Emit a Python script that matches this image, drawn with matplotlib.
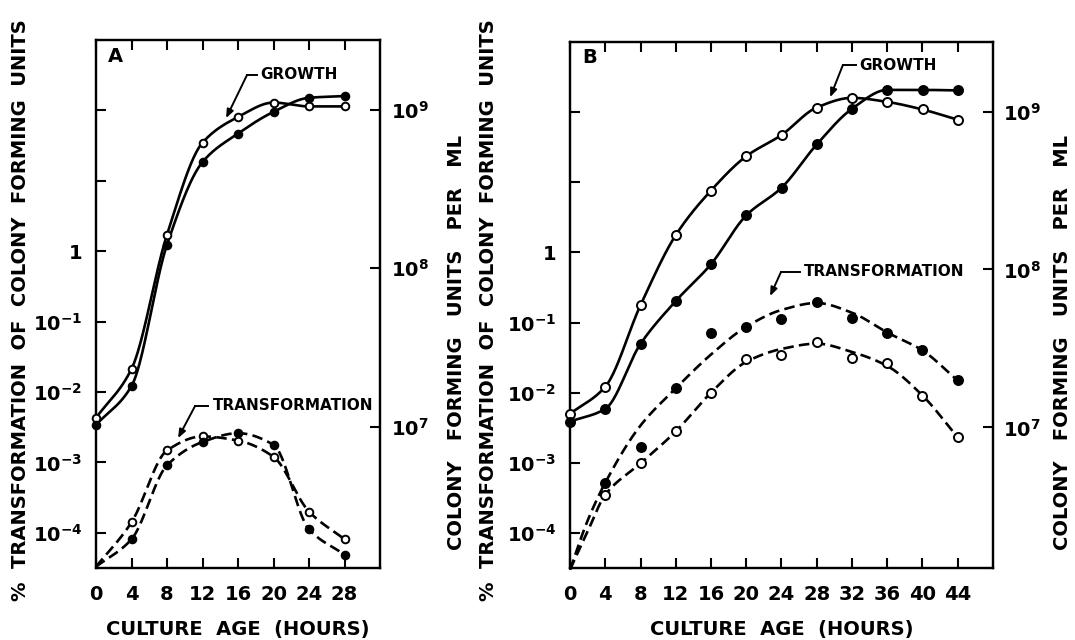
import numpy as np
import matplotlib
matplotlib.use("Agg")
import matplotlib.pyplot as plt
from matplotlib.ticker import NullLocator

plt.rcParams['font.family'] = ['DejaVu Sans']
plt.rcParams['font.weight'] = 'bold'
plt.rcParams['mathtext.fontset'] = 'dejavusans'
plt.rcParams['mathtext.default'] = 'bf'

# ---------------- data ----------------
# Panel A
a_hours = [0, 4, 8, 12, 16, 20, 24, 28]
a_growth_open = [1.14e7, 2.32e7, 1.63e8, 6.2e8, 9.0e8, 1.11e9, 1.05e9, 1.05e9]
a_growth_filled = [1.03e7, 1.81e7, 1.41e8, 4.68e8, 7.08e8, 9.7e8, 1.19e9, 1.22e9]
a_trans_hours = [4, 8, 12, 16, 20, 24, 28]
a_trans_open = [1.41e-4, 1.48e-3, 2.34e-3, 2.04e-3, 1.20e-3, 2.0e-4, 8.1e-5]
a_trans_filled = [8.1e-5, 9.1e-4, 1.95e-3, 2.6e-3, 1.78e-3, 1.12e-4, 4.9e-5]
a_trans_curve_start = 3.3e-5          # value of the dashed curves at hour 0

# Panel B
b_hours = [0, 4, 8, 12, 16, 20, 24, 28, 32, 36, 40, 44]
b_growth_open = [1.22e7, 1.81e7, 5.94e7, 1.65e8, 3.16e8, 5.21e8, 7.1e8, 1.06e9,
                 1.22e9, 1.15e9, 1.03e9, 8.87e8]
b_growth_filled = [1.09e7, 1.31e7, 3.38e7, 6.31e7, 1.08e8, 2.2e8, 3.29e8, 6.19e8,
                   1.04e9, 1.37e9, 1.37e9, 1.36e9]
b_trans_hours = [4, 8, 12, 16, 20, 24, 28, 32, 36, 40, 44]
b_trans_open = [3.5e-4, 9.8e-4, 2.8e-3, 1.0e-2, 3.0e-2, 3.5e-2, 5.2e-2, 3.16e-2,
                2.65e-2, 9.1e-3, 2.3e-3]
b_trans_filled = [5.2e-4, 1.7e-3, 1.16e-2, 7.2e-2, 8.6e-2, 0.112, 0.198, 0.116,
                  0.072, 0.040, 0.015]
# hand-fitted dashed curves
b_curve_hours = [0, 2, 4, 8, 12, 16, 20, 24, 28, 32, 36, 40, 44]
b_curve_open = [3.0e-5, 1.05e-4, 3.5e-4, 9.8e-4, 2.8e-3, 1.0e-2, 2.75e-2, 4.2e-2,
                5.0e-2, 3.8e-2, 2.4e-2, 9.1e-3, 2.3e-3]
b_curve_filled = [3.0e-5, 1.5e-4, 5.2e-4, 3.4e-3, 1.15e-2, 3.5e-2, 8.7e-2, 0.151,
                  0.19, 0.138, 0.072, 0.040, 0.0148]

a_xticks = [0, 4, 8, 12, 16, 20, 24, 28]
b_xticks = [0, 4, 8, 12, 16, 20, 24, 28, 32, 36, 40, 44]
left_ticks = [1e-4, 1e-3, 1e-2, 1e-1, 1, 10, 100]
left_labels = ['$10^{-4}$', '$10^{-3}$', '$10^{-2}$', '$10^{-1}$', '1', '', '']
right_ticks = [1e7, 1e8, 1e9]
right_labels = ['$10^{7}$', '$10^{8}$', '$10^{9}$']


def smooth(x, y, n=40):
    """Monotone cubic (Fritsch-Carlson) curve through the points, in log space."""
    x = np.asarray(x, float)
    ly = np.log10(np.asarray(y, float))
    h = np.diff(x)
    d = np.diff(ly) / h
    m = np.empty_like(ly)
    m[0], m[-1] = d[0], d[-1]
    for i in range(1, len(ly) - 1):
        if d[i - 1] * d[i] <= 0:
            m[i] = 0.0
        else:
            w1 = 2 * h[i] + h[i - 1]
            w2 = h[i] + 2 * h[i - 1]
            m[i] = (w1 + w2) / (w1 / d[i - 1] + w2 / d[i])
    xs, ys = [], []
    for i in range(len(x) - 1):
        t = np.linspace(0, 1, n, endpoint=(i == len(x) - 2))
        h00 = 2 * t**3 - 3 * t**2 + 1
        h10 = t**3 - 2 * t**2 + t
        h01 = -2 * t**3 + 3 * t**2
        h11 = t**3 - t**2
        xs.append(x[i] + t * h[i])
        ys.append(h00 * ly[i] + h10 * h[i] * m[i] + h01 * ly[i + 1] + h11 * h[i] * m[i + 1])
    return np.concatenate(xs), 10 ** np.concatenate(ys)


fig = plt.figure(figsize=(10.75, 6.4), dpi=100)
W, H = 1075, 640
axA = fig.add_axes([96 / W, 72 / H, 284 / W, 528 / H])
axB = fig.add_axes([570 / W, 72 / H, 423 / W, 526 / H])

LW = 1.9
DASH = (4, 2)


def setup(ax, xmax, xticks, rpad):
    ax.set_yscale('log')
    ax.set_ylim(10 ** -4.5, 10 ** 3)
    ax.set_xlim(0, xmax)
    ax.set_xticks(xticks)
    ax.set_xticklabels([str(v) for v in xticks])
    ax.set_yticks(left_ticks)
    ax.set_yticklabels(left_labels)
    ax.yaxis.set_minor_locator(NullLocator())
    ax.tick_params(axis='both', which='major', direction='in', length=7, width=1.5,
                   labelsize=14)
    ax.tick_params(axis='x', top=True, pad=12)
    ax.tick_params(axis='y', pad=10)
    for s in ax.spines.values():
        s.set_linewidth(1.6)
    ax.set_xlabel('CULTURE  AGE  (HOURS)', fontsize=14, fontweight='bold', labelpad=12)
    ax2 = ax.twinx()
    ax2.set_yscale('log')
    ax2.set_ylim(10 ** 6.11, 10 ** 9.44)
    ax2.set_yticks(right_ticks)
    ax2.set_yticklabels(right_labels)
    ax2.yaxis.set_minor_locator(NullLocator())
    ax2.tick_params(axis='y', which='major', direction='in', length=7, width=1.5,
                    labelsize=14, pad=rpad)
    for s in ax2.spines.values():
        s.set_linewidth(1.6)
    return ax2


axA2 = setup(axA, 32, a_xticks, 8)
axB2 = setup(axB, 48, b_xticks, 7)


def series(ax, hx, vals, filled, dashed, ms, curve=None):
    cx, cy = curve if curve is not None else (hx, vals)
    sx, sy = smooth(cx, cy)
    ax.plot(sx, sy, color='black', lw=LW, dashes=DASH if dashed else (None, None),
            solid_capstyle='round', clip_on=False)
    ax.plot(hx, vals, 'o', ms=ms, mfc='black' if filled else 'white', mec='black',
            mew=1.4, clip_on=False, zorder=5)


# Panel A
series(axA2, a_hours, a_growth_open, False, False, 5.5)
series(axA2, a_hours, a_growth_filled, True, False, 5.5)
series(axA, a_trans_hours, a_trans_open, False, True, 5.5,
       curve=([0] + a_trans_hours, [a_trans_curve_start] + a_trans_open))
series(axA, a_trans_hours, a_trans_filled, True, True, 5.5,
       curve=([0] + a_trans_hours, [a_trans_curve_start] + a_trans_filled))

# Panel B
series(axB2, b_hours, b_growth_open, False, False, 6.5)
series(axB2, b_hours, b_growth_filled, True, False, 6.5)
series(axB, b_trans_hours, b_trans_open, False, True, 6.5,
       curve=(b_curve_hours, b_curve_open))
series(axB, b_trans_hours, b_trans_filled, True, True, 6.5,
       curve=(b_curve_hours, b_curve_filled))


def leader(ax, text, tip, knee, hend, tx):
    ax.annotate('', xy=tip, xytext=knee, xycoords='axes fraction',
                textcoords='axes fraction',
                arrowprops=dict(arrowstyle='-|>,head_length=0.5,head_width=0.2',
                                lw=1.4, color='black', shrinkA=0, shrinkB=0))
    ax.plot([knee[0], hend], [knee[1], knee[1]], color='black', lw=1.4,
            transform=ax.transAxes)
    ax.text(tx, knee[1], text, transform=ax.transAxes, ha='left', va='center',
            fontsize=11, fontweight='bold')


leader(axA2, 'GROWTH', (0.458, 0.852), (0.532, 0.934), 0.567, 0.58)
leader(axA2, 'TRANSFORMATION', (0.289, 0.246), (0.349, 0.307), 0.394, 0.41)
leader(axB2, 'GROWTH', (0.615, 0.895), (0.645, 0.956), 0.676, 0.684)
leader(axB2, 'TRANSFORMATION', (0.473, 0.517), (0.499, 0.563), 0.544, 0.553)

axA.text(0.067, 0.968, 'A', transform=axA.transAxes, ha='center', va='center',
         fontsize=14, fontweight='bold')
axB.text(0.047, 0.971, 'B', transform=axB.transAxes, ha='center', va='center',
         fontsize=14, fontweight='bold')

ylab_left = '%  TRANSFORMATION  OF  COLONY  FORMING  UNITS'
ylab_right = 'COLONY   FORMING   UNITS   PER   ML'
fig.text(21 / W, 1 - 310 / H, ylab_left, rotation=90, ha='center', va='center',
         fontsize=14, fontweight='bold')
fig.text(456 / W, 1 - 342 / H, ylab_right, rotation=90, ha='center', va='center',
         fontsize=14, fontweight='bold')
fig.text(488 / W, 1 - 310 / H, ylab_left, rotation=90, ha='center', va='center',
         fontsize=14, fontweight='bold')
fig.text(1063 / W, 1 - 342 / H, ylab_right, rotation=90, ha='center', va='center',
         fontsize=14, fontweight='bold')

fig.savefig('out.png', dpi=100)
